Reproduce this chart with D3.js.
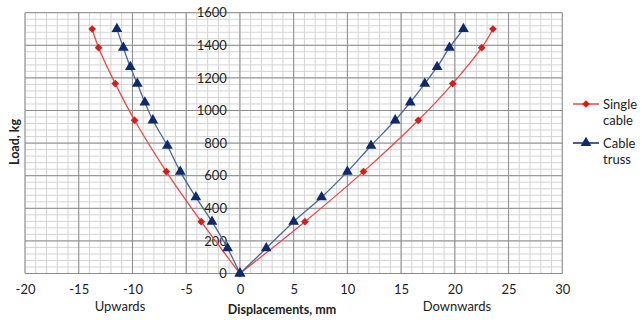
<!DOCTYPE html>
<html>
<head>
<meta charset="utf-8">
<script src="https://cdn.jsdelivr.net/npm/d3@7"></script>
<style>
  body { margin: 0; background: #fff; }
  text { font-family: Lato, "Open Sans", sans-serif; fill: #222; }
</style>
</head>
<body>
<div id="chart"></div>
<script>
// single cable: upwards and downwards displacement (mm) per load (kg)
var singleLoad = [0, 318, 625, 940, 1165, 1385, 1500];
var singleUp = [0, -3.6, -6.85, -9.8, -11.6, -13.15, -13.75];
var singleDown = [0, 6.05, 11.5, 16.6, 19.8, 22.5, 23.55];

// cable truss
var trussLoad = [0, 155, 318, 468, 625, 784, 940, 1050, 1165, 1267, 1385, 1500];
var trussUp = [0, -1.15, -2.6, -4.1, -5.55, -6.75, -8.1, -8.85, -9.55, -10.2, -10.85, -11.45];
var trussDown = [0, 2.45, 5.0, 7.6, 10.0, 12.2, 14.45, 15.85, 17.2, 18.35, 19.5, 20.8];

var xTicks = [-20, -15, -10, -5, 0, 5, 10, 15, 20, 25, 30];
var yTicks = [0, 200, 400, 600, 800, 1000, 1200, 1400, 1600];

var width = 644, height = 320;
var svg = d3.select("#chart")
  .append("svg")
    .attr("width", width)
    .attr("height", height);

var x = d3.scaleLinear().domain([-20, 30]).range([25, 562.3]);
var y = d3.scaleLinear().domain([0, 1600]).range([273.5, 12.7]);

// grid: minor first, then major on top
var grid = svg.append("g");
grid.selectAll("line.vmin")
  .data(d3.range(-20, 31, 1))
  .enter().append("line")
    .attr("x1", d => x(d)).attr("x2", d => x(d))
    .attr("y1", y(0)).attr("y2", y(1600))
    .attr("stroke", "#d4d4d4");
grid.selectAll("line.hmin")
  .data(d3.range(0, 1601, 40))
  .enter().append("line")
    .attr("x1", x(-20)).attr("x2", x(30))
    .attr("y1", d => y(d)).attr("y2", d => y(d))
    .attr("stroke", "#d4d4d4");
grid.selectAll("line.vmaj")
  .data(xTicks)
  .enter().append("line")
    .attr("x1", d => x(d)).attr("x2", d => x(d))
    .attr("y1", y(0)).attr("y2", y(1600))
    .attr("stroke", "#8c8c8c");
grid.selectAll("line.hmaj")
  .data(yTicks)
  .enter().append("line")
    .attr("x1", x(-20)).attr("x2", x(30))
    .attr("y1", d => y(d)).attr("y2", d => y(d))
    .attr("stroke", "#8c8c8c");

// axes, labels only
var xAxis = svg.append("g")
  .attr("transform", "translate(0," + y(0) + ")")
  .call(d3.axisBottom(x).tickValues(xTicks).tickFormat(d => String(d)).tickSize(0).tickPadding(11));
xAxis.select(".domain").remove();
xAxis.selectAll("text").attr("font-size", 13).attr("font-family", "Lato");

var yAxis = svg.append("g")
  .attr("transform", "translate(" + x(0) + ",0)")
  .call(d3.axisLeft(y).tickValues(yTicks).tickFormat(d => String(d)).tickSize(0).tickPadding(13));
yAxis.select(".domain").remove();
yAxis.selectAll("text").attr("font-size", 13).attr("font-family", "Lato");

var line = d3.line()
  .x(d => x(d[0]))
  .y(d => y(d[1]))
  .curve(d3.curveCatmullRom);

var series = [
  { load: singleLoad, up: singleUp, down: singleDown, line: "#e64c4c", mark: "#d41e1e", sym: d3.symbolSquare, size: 30, rot: 45 },
  { load: trussLoad, up: trussUp, down: trussDown, line: "#4a6796", mark: "#0e2a6b", sym: d3.symbolTriangle, size: 50, rot: 0 }
];

series.forEach(function(s) {
  [s.up, s.down].forEach(function(xs) {
    var pts = xs.map((v, i) => [v, s.load[i]]);
    svg.append("path")
      .datum(pts)
      .attr("fill", "none")
      .attr("stroke", s.line)
      .attr("stroke-width", 1.3)
      .attr("d", line);
    svg.selectAll(null)
      .data(pts)
      .enter().append("path")
        .attr("transform", d => "translate(" + x(d[0]) + "," + y(d[1]) + ") rotate(" + s.rot + ")")
        .attr("d", d3.symbol().type(s.sym).size(s.size))
        .attr("fill", s.mark);
  });
});

// axis titles
svg.append("text")
  .attr("transform", "translate(19,142) rotate(-90)")
  .attr("text-anchor", "middle")
  .attr("font-size", 12.5).attr("font-weight", "bold")
  .text("Load, kg");
svg.append("text")
  .attr("x", 282).attr("y", 314)
  .attr("text-anchor", "middle")
  .attr("font-size", 12.5).attr("font-weight", "bold")
  .text("Displacements, mm");
svg.append("text")
  .attr("x", 120).attr("y", 311)
  .attr("text-anchor", "middle")
  .attr("font-size", 13)
  .text("Upwards");
svg.append("text")
  .attr("x", 457).attr("y", 311)
  .attr("text-anchor", "middle")
  .attr("font-size", 13)
  .text("Downwards");

// legend
var legend = [
  { name: ["Single", "cable"], line: "#e64c4c", mark: "#d41e1e", sym: d3.symbolSquare, size: 30, rot: 45, y: 104 },
  { name: ["Cable", "truss"], line: "#0e2a6b", mark: "#0e2a6b", sym: d3.symbolTriangle, size: 50, rot: 0, y: 143 }
];
legend.forEach(function(l) {
  svg.append("line")
    .attr("x1", 573).attr("x2", 599)
    .attr("y1", l.y).attr("y2", l.y)
    .attr("stroke", l.line).attr("stroke-width", 1.5);
  svg.append("path")
    .attr("transform", "translate(586," + l.y + ") rotate(" + l.rot + ")")
    .attr("d", d3.symbol().type(l.sym).size(l.size))
    .attr("fill", l.mark);
  svg.append("text")
    .attr("x", 603).attr("y", l.y + 5)
    .attr("font-size", 13)
    .text(l.name[0]);
  svg.append("text")
    .attr("x", 603).attr("y", l.y + 21)
    .attr("font-size", 13)
    .text(l.name[1]);
});
</script>
</body>
</html>
